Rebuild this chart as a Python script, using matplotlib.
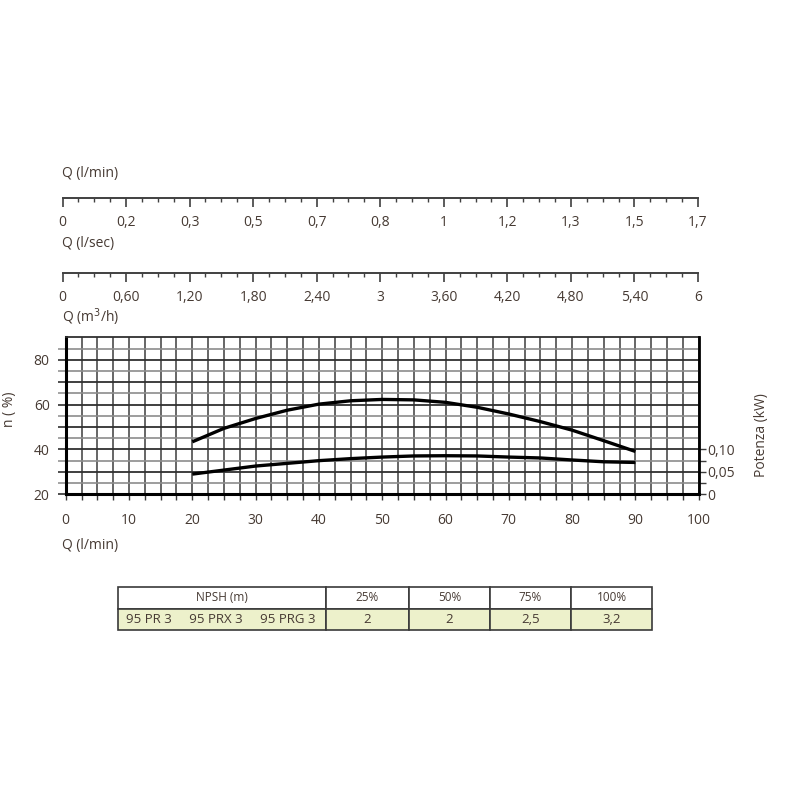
import matplotlib
matplotlib.use('Agg')
import matplotlib.pyplot as plt
from matplotlib.ticker import FixedLocator

plt.rcParams['font.family'] = ['Open Sans', 'DejaVu Sans']

# ---- data ----
flow_lmin = [20, 25, 30, 35, 40, 45, 50, 55, 60, 65, 70, 75, 80, 85, 90]
efficiency = [43.4, 49.4, 53.8, 57.5, 60.2, 61.7, 62.3, 62.1, 61.0, 58.8, 55.8, 52.4, 48.6, 43.9, 39.1]
power_kw = [0.045, 0.054, 0.063, 0.069, 0.075, 0.0795, 0.083, 0.0855, 0.086, 0.0855, 0.083, 0.081,
            0.0765, 0.0725, 0.071]

x_ticks = [0, 10, 20, 30, 40, 50, 60, 70, 80, 90, 100]
x_labels = ['0', '10', '20', '30', '40', '50', '60', '70', '80', '90', '100']
lsec_labels = ['0', '0,2', '0,3', '0,5', '0,7', '0,8', '1', '1,2', '1,3', '1,5', '1,7']
m3h_labels = ['0', '0,60', '1,20', '1,80', '2,40', '3', '3,60', '4,20', '4,80', '5,40', '6']
eff_ticks = [20, 30, 40, 50, 60, 70, 80]
eff_labels = ['20', '', '40', '', '60', '', '80']
power_ticks = [0, 0.05, 0.10]
power_labels = ['0', '0,05', '0,10']
npsh_header = ['NPSH (m)', '25%', '50%', '75%', '100%']
npsh_row = ['95 PR 3     95 PRX 3     95 PRG 3', '2', '2', '2,5', '3,2']

TXT = '#463a33'
GRID = '#3c3c3c'

fig = plt.figure(figsize=(8, 8), dpi=100)
W = H = 800.0

def fx(px):
    return px / W

def fy(py):
    return 1 - py / H

# ---- main axes ----
L, R, T, B = 65.7, 698.7, 337.3, 494.3
ax = fig.add_axes([fx(L), fy(B), fx(R - L), (B - T) / H])
ax.set_xlim(0, 100)
ax.set_ylim(20, 90)

ax.xaxis.set_major_locator(FixedLocator(x_ticks))
ax.set_xticklabels(x_labels)
minor_x = [v * 2.5 for v in range(41) if (v * 2.5) % 10 != 0]
ax.xaxis.set_minor_locator(FixedLocator(minor_x))
ax.yaxis.set_major_locator(FixedLocator(eff_ticks))
ax.set_yticklabels(eff_labels)
ax.yaxis.set_minor_locator(FixedLocator([25, 35, 45, 55, 65, 75, 85]))

ax.grid(which='both', axis='x', color=GRID, lw=1.1)
ax.grid(which='major', axis='y', color='#303030', lw=1.3)
ax.grid(which='minor', axis='y', color='#8c8c8c', lw=1.2)
ax.set_axisbelow(True)

ax.tick_params(axis='x', which='both', direction='out', length=4.5, width=1.0, color=GRID,
               labelsize=10, labelcolor=TXT, pad=9)
ax.tick_params(axis='y', which='major', direction='out', length=6, width=1.2, color='#303030',
               labelsize=10, labelcolor=TXT, pad=5.5)
ax.tick_params(axis='y', which='minor', direction='out', length=6, width=1.1, color='#8c8c8c')

for s in ['left', 'bottom']:
    ax.spines[s].set_linewidth(2.2)
    ax.spines[s].set_color('black')
ax.spines['top'].set_linewidth(1.3)
ax.spines['top'].set_color('#303030')
ax.spines['right'].set_visible(False)

ax.plot(flow_lmin, efficiency, color='black', lw=2.4, solid_capstyle='butt', zorder=5)

ax2 = ax.twinx()
ax2.set_ylim(0, 0.35)
ax2.yaxis.set_major_locator(FixedLocator(power_ticks))
ax2.set_yticklabels(power_labels)
ax2.yaxis.set_minor_locator(FixedLocator([0.025, 0.075]))
ax2.tick_params(axis='y', which='both', direction='out', length=5, width=1.0, color=GRID,
                labelsize=10, labelcolor=TXT, pad=1.5)
for s in ['left', 'bottom', 'top']:
    ax2.spines[s].set_visible(False)
ax2.spines['right'].set_linewidth(2.0)
ax2.spines['right'].set_color('black')
ax2.plot(flow_lmin, power_kw, color='black', lw=2.4, solid_capstyle='butt', zorder=5)

fig.text(fx(10), fy(409), 'n ( %)', rotation=90, ha='center', va='center', fontsize=10, color=TXT)
fig.text(fx(761), fy(435), 'Potenza (kW)', rotation=90, ha='center', va='center', fontsize=10, color=TXT)
fig.text(fx(62), fy(545), 'Q (l/min)', ha='left', va='center', fontsize=10, color=TXT)

# ---- top scale axes ----
def scale_axis(line_py, labels):
    a = fig.add_axes([fx(62.5), fy(line_py), fx(698 - 62.5), 0.0001])
    a.set_xlim(0, 100)
    a.set_ylim(0, 1)
    a.set_yticks([])
    for s in ['left', 'right', 'top']:
        a.spines[s].set_visible(False)
    a.spines['bottom'].set_linewidth(1.4)
    a.spines['bottom'].set_color('#404040')
    a.patch.set_alpha(0)
    a.xaxis.set_major_locator(FixedLocator(x_ticks))
    a.set_xticklabels(labels)
    a.xaxis.set_minor_locator(FixedLocator(minor_x))
    a.tick_params(axis='x', which='major', direction='out', length=6.5, width=1.2, color='#404040',
                  labelsize=10, labelcolor=TXT, pad=5.5)
    a.tick_params(axis='x', which='minor', direction='out', length=3.2, width=1.0, color='#404040')
    return a

scale_axis(198.3, lsec_labels)
scale_axis(273.3, m3h_labels)

fig.text(fx(62), fy(173), 'Q (l/min)', ha='left', va='center', fontsize=10, color=TXT)
fig.text(fx(62), fy(244), 'Q (l/sec)', ha='left', va='center', fontsize=10, color=TXT)
fig.text(fx(62), fy(317), 'Q (m$^3$/h)', ha='left', va='center', fontsize=10, color=TXT)

# ---- NPSH table ----
tl, tr, tt, tb = 118, 652, 587, 630
axt = fig.add_axes([fx(tl), fy(tb), fx(tr - tl), (tb - tt) / H])
axt.axis('off')
col_px = [208, 83, 81, 81, 81]
tot = float(sum(col_px))
tbl = axt.table(cellText=[npsh_header, npsh_row], colWidths=[c / tot for c in col_px],
                cellLoc='center', bbox=[0, 0, 1, 1])
tbl.auto_set_font_size(False)
for (r, c), cell in tbl.get_celld().items():
    cell.set_edgecolor('#3a3a3a')
    cell.set_linewidth(1.2)
    cell.get_text().set_color(TXT)
    if r == 0:
        cell.set_facecolor('white')
        cell.get_text().set_fontsize(8.5)
    else:
        cell.set_facecolor('#edf1cb')
        cell.get_text().set_fontsize(9.5)
c10 = tbl[1, 0]
c10._loc = 'left'
c10.PAD = 0.04
c10.get_text().set_ha('left')

fig.savefig('out.png', dpi=100)
